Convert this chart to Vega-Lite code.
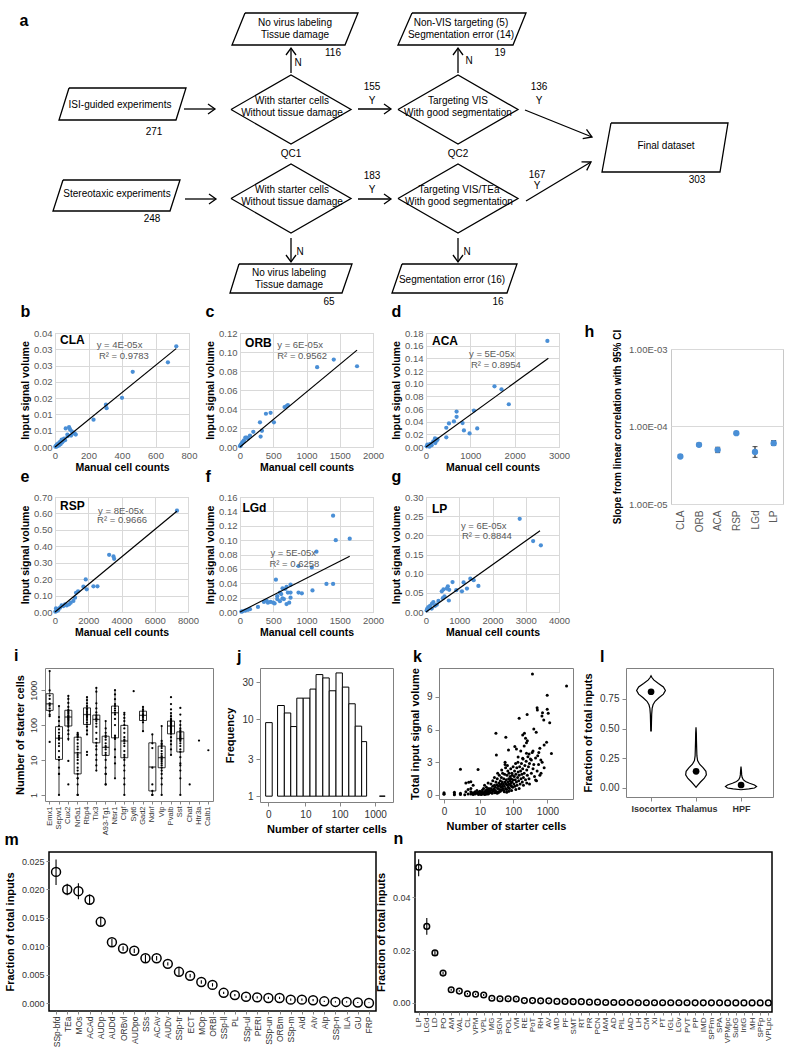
{
"$schema": "https://vega.github.io/schema/vega-lite/v6.json",
"background": "white",
"padding": 0,
"config": {
  "view": {"stroke": null},
  "font": "Liberation Sans",
  "text": {"font": "Liberation Sans"},
  "axis": {"labelFont": "Liberation Sans", "titleFont": "Liberation Sans", "titleFontWeight": "bold", "titleColor": "black", "labelOverlap": false, "labelFlush": false},
  "title": {"font": "Liberation Sans", "fontSize": 16, "fontWeight": "bold", "anchor": "start", "frame": "bounds", "color": "black"}
},
"datasets": {
  "fcl": [
    {"g":"P1","k":0,"x":245,"y":13},{"g":"P1","k":1,"x":358,"y":13},{"g":"P1","k":2,"x":345,"y":45},{"g":"P1","k":3,"x":232,"y":45},{"g":"P1","k":4,"x":245,"y":13},
    {"g":"P2","k":0,"x":412,"y":13},{"g":"P2","k":1,"x":526,"y":13},{"g":"P2","k":2,"x":513,"y":45},{"g":"P2","k":3,"x":398,"y":45},{"g":"P2","k":4,"x":412,"y":13},
    {"g":"P3","k":0,"x":69,"y":88},{"g":"P3","k":1,"x":186,"y":88},{"g":"P3","k":2,"x":176,"y":120},{"g":"P3","k":3,"x":59,"y":120},{"g":"P3","k":4,"x":69,"y":88},
    {"g":"P4","k":0,"x":611,"y":123},{"g":"P4","k":1,"x":728,"y":123},{"g":"P4","k":2,"x":720,"y":172},{"g":"P4","k":3,"x":602,"y":172},{"g":"P4","k":4,"x":611,"y":123},
    {"g":"P5","k":0,"x":63,"y":180},{"g":"P5","k":1,"x":180,"y":180},{"g":"P5","k":2,"x":170,"y":211},{"g":"P5","k":3,"x":53,"y":211},{"g":"P5","k":4,"x":63,"y":180},
    {"g":"P6","k":0,"x":239,"y":264},{"g":"P6","k":1,"x":352,"y":264},{"g":"P6","k":2,"x":342,"y":293},{"g":"P6","k":3,"x":230,"y":293},{"g":"P6","k":4,"x":239,"y":264},
    {"g":"P7","k":0,"x":402,"y":264},{"g":"P7","k":1,"x":517,"y":264},{"g":"P7","k":2,"x":507,"y":293},{"g":"P7","k":3,"x":392,"y":293},{"g":"P7","k":4,"x":402,"y":264},
    {"g":"D1","k":0,"x":231,"y":109.5},{"g":"D1","k":1,"x":291,"y":75},{"g":"D1","k":2,"x":351,"y":109.5},{"g":"D1","k":3,"x":291,"y":144},{"g":"D1","k":4,"x":231,"y":109.5},
    {"g":"D2","k":0,"x":398,"y":109.5},{"g":"D2","k":1,"x":458,"y":75},{"g":"D2","k":2,"x":518,"y":109.5},{"g":"D2","k":3,"x":458,"y":144},{"g":"D2","k":4,"x":398,"y":109.5},
    {"g":"D3","k":0,"x":231,"y":198.5},{"g":"D3","k":1,"x":291,"y":164},{"g":"D3","k":2,"x":351,"y":198.5},{"g":"D3","k":3,"x":291,"y":233},{"g":"D3","k":4,"x":231,"y":198.5},
    {"g":"D4","k":0,"x":398,"y":198.5},{"g":"D4","k":1,"x":458,"y":164},{"g":"D4","k":2,"x":518,"y":198.5},{"g":"D4","k":3,"x":458,"y":233},{"g":"D4","k":4,"x":398,"y":198.5},
    {"g":"A1","k":0,"x":184,"y":109},{"g":"A1","k":1,"x":215,"y":109},
    {"g":"H1","k":0,"x":208,"y":104},{"g":"H1","k":1,"x":215,"y":109},{"g":"H1","k":2,"x":208,"y":114},
    {"g":"A2","k":0,"x":358,"y":109},{"g":"A2","k":1,"x":391,"y":109},
    {"g":"H2","k":0,"x":384,"y":104},{"g":"H2","k":1,"x":391,"y":109},{"g":"H2","k":2,"x":384,"y":114},
    {"g":"A3","k":0,"x":291,"y":73},{"g":"A3","k":1,"x":291,"y":48},
    {"g":"H3","k":0,"x":286,"y":55},{"g":"H3","k":1,"x":291,"y":48},{"g":"H3","k":2,"x":296,"y":55},
    {"g":"A4","k":0,"x":458,"y":73},{"g":"A4","k":1,"x":458,"y":48},
    {"g":"H4","k":0,"x":453,"y":55},{"g":"H4","k":1,"x":458,"y":48},{"g":"H4","k":2,"x":463,"y":55},
    {"g":"A5","k":0,"x":525,"y":110},{"g":"A5","k":1,"x":592,"y":137},
    {"g":"H5","k":0,"x":582.7,"y":138.6},{"g":"H5","k":1,"x":592,"y":137},{"g":"H5","k":2,"x":586.5,"y":129.4},
    {"g":"A6","k":0,"x":185,"y":199},{"g":"A6","k":1,"x":216,"y":199},
    {"g":"H6","k":0,"x":209,"y":194},{"g":"H6","k":1,"x":216,"y":199},{"g":"H6","k":2,"x":209,"y":204},
    {"g":"A7","k":0,"x":358,"y":199},{"g":"A7","k":1,"x":391,"y":199},
    {"g":"H7","k":0,"x":384,"y":194},{"g":"H7","k":1,"x":391,"y":199},{"g":"H7","k":2,"x":384,"y":204},
    {"g":"A8","k":0,"x":526,"y":201},{"g":"A8","k":1,"x":591,"y":162},
    {"g":"H8","k":0,"x":586.7,"y":170.4},{"g":"H8","k":1,"x":591,"y":162},{"g":"H8","k":2,"x":581.5,"y":161.8},
    {"g":"A9","k":0,"x":291,"y":238},{"g":"A9","k":1,"x":291,"y":262},
    {"g":"H9","k":0,"x":286,"y":255},{"g":"H9","k":1,"x":291,"y":262},{"g":"H9","k":2,"x":296,"y":255},
    {"g":"A10","k":0,"x":458,"y":238},{"g":"A10","k":1,"x":458,"y":262},
    {"g":"H10","k":0,"x":453,"y":255},{"g":"H10","k":1,"x":458,"y":262},{"g":"H10","k":2,"x":463,"y":255}
  ],
  "fct": [
    {"t":"No virus labeling","x":295,"y":23},{"t":"Tissue damage","x":295,"y":35},{"t":"116","x":333,"y":53},
    {"t":"Non-VIS targeting (5)","x":461,"y":23},{"t":"Segmentation error (14)","x":461,"y":35},{"t":"19","x":500,"y":53},
    {"t":"N","x":298,"y":63},{"t":"N","x":469,"y":61},
    {"t":"ISI-guided experiments","x":120,"y":105},{"t":"271","x":154,"y":132},
    {"t":"With starter cells","x":292,"y":101},{"t":"Without tissue damage","x":292,"y":113},
    {"t":"155","x":372,"y":87},{"t":"Y","x":372,"y":101},
    {"t":"Targeting VIS","x":458,"y":101},{"t":"With good segmentation","x":458,"y":113},
    {"t":"136","x":539,"y":87},{"t":"Y","x":539,"y":101},
    {"t":"Final dataset","x":666,"y":146},{"t":"303","x":697,"y":180},
    {"t":"QC1","x":291,"y":154},{"t":"QC2","x":458,"y":154},
    {"t":"Stereotaxic experiments","x":117,"y":194},{"t":"248","x":152,"y":219},
    {"t":"With starter cells","x":292,"y":190},{"t":"Without tissue damage","x":292,"y":202},
    {"t":"183","x":372,"y":176},{"t":"Y","x":372,"y":190},
    {"t":"Targeting VIS/TEa","x":459,"y":190},{"t":"With good segmentation","x":459,"y":202},
    {"t":"167","x":537,"y":175},{"t":"Y","x":537,"y":186},
    {"t":"N","x":300,"y":252},{"t":"N","x":467,"y":252},
    {"t":"No virus labeling","x":289,"y":273},{"t":"Tissue damage","x":289,"y":285},{"t":"65","x":329,"y":302},
    {"t":"Segmentation error (16)","x":452,"y":280},{"t":"16","x":498,"y":302}
  ],
  "fca": [{"t":"a","x":24,"y":21}],
  "sc": [
    {"p":"b","x":724,"y":0.0309},{"p":"b","x":674,"y":0.026},{"p":"b","x":464,"y":0.0231},{"p":"b","x":400,"y":0.0151},{"p":"b","x":304,"y":0.013},{"p":"b","x":308,"y":0.0119},{"p":"b","x":230,"y":0.0084},
    {"p":"b","x":84,"y":0.0061},{"p":"b","x":64,"y":0.0057},{"p":"b","x":90,"y":0.0054},{"p":"b","x":100,"y":0.0048},{"p":"b","x":118,"y":0.0041},{"p":"b","x":124,"y":0.0038},{"p":"b","x":74,"y":0.0038},{"p":"b","x":54,"y":0.0026},{"p":"b","x":40,"y":0.0023},{"p":"b","x":48,"y":0.0018},{"p":"b","x":30,"y":0.0016},{"p":"b","x":20,"y":0.0011},{"p":"b","x":12,"y":0.0008},{"p":"b","x":6,"y":0.0004},{"p":"b","x":26,"y":0.0006},{"p":"b","x":42,"y":0.0014},{"p":"b","x":60,"y":0.0021},{"p":"b","x":76,"y":0.0033},{"p":"b","x":16,"y":0.0003},{"p":"b","x":8,"y":0.0001},{"p":"b","x":2,"y":0.0001},{"p":"b","x":34,"y":0.0009},{"p":"b","x":96,"y":0.0035},{"p":"b","x":110,"y":0.0043},
    {"p":"c","x":1160,"y":0.084},{"p":"c","x":1410,"y":0.092},{"p":"c","x":1760,"y":0.085},{"p":"c","x":720,"y":0.044},{"p":"c","x":700,"y":0.043},{"p":"c","x":670,"y":0.042},{"p":"c","x":460,"y":0.036},{"p":"c","x":390,"y":0.035},{"p":"c","x":510,"y":0.026},{"p":"c","x":300,"y":0.026},{"p":"c","x":330,"y":0.017},{"p":"c","x":310,"y":0.011},{"p":"c","x":200,"y":0.016},{"p":"c","x":150,"y":0.012},{"p":"c","x":100,"y":0.01},{"p":"c","x":80,"y":0.01},{"p":"c","x":60,"y":0.007},{"p":"c","x":40,"y":0.005},{"p":"c","x":30,"y":0.004},{"p":"c","x":20,"y":0.003},{"p":"c","x":10,"y":0.002},{"p":"c","x":5,"y":0.001},{"p":"c","x":50,"y":0.006},{"p":"c","x":120,"y":0.009},{"p":"c","x":15,"y":0.002},{"p":"c","x":0,"y":0.001},
    {"p":"d","x":2738,"y":0.1675},{"p":"d","x":1545,"y":0.0958},{"p":"d","x":1703,"y":0.0911},{"p":"d","x":1868,"y":0.0675},{"p":"d","x":1080,"y":0.0576},{"p":"d","x":690,"y":0.056},{"p":"d","x":690,"y":0.0476},{"p":"d","x":630,"y":0.0403},{"p":"d","x":518,"y":0.0372},{"p":"d","x":825,"y":0.0377},{"p":"d","x":458,"y":0.0304},{"p":"d","x":855,"y":0.0262},{"p":"d","x":1155,"y":0.0293},{"p":"d","x":983,"y":0.0215},{"p":"d","x":458,"y":0.0152},{"p":"d","x":203,"y":0.0136},{"p":"d","x":240,"y":0.0099},{"p":"d","x":210,"y":0.0063},{"p":"d","x":90,"y":0.0047},{"p":"d","x":128,"y":0.0026},{"p":"d","x":15,"y":0.001},{"p":"d","x":53,"y":0.002},{"p":"d","x":165,"y":0.0089},{"p":"d","x":30,"y":0.0037},{"p":"d","x":75,"y":0.0005},{"p":"d","x":260,"y":0.012},{"p":"d","x":110,"y":0.005},
    {"p":"e","x":7337,"y":0.617},{"p":"e","x":3256,"y":0.348},{"p":"e","x":3518,"y":0.338},{"p":"e","x":3558,"y":0.324},{"p":"e","x":1849,"y":0.198},{"p":"e","x":1910,"y":0.138},{"p":"e","x":1709,"y":0.154},{"p":"e","x":2312,"y":0.156},{"p":"e","x":2553,"y":0.156},{"p":"e","x":1387,"y":0.126},{"p":"e","x":1266,"y":0.117},{"p":"e","x":1206,"y":0.087},{"p":"e","x":1106,"y":0.067},{"p":"e","x":945,"y":0.057},{"p":"e","x":844,"y":0.047},{"p":"e","x":704,"y":0.04},{"p":"e","x":402,"y":0.04},{"p":"e","x":302,"y":0.026},{"p":"e","x":201,"y":0.012},{"p":"e","x":60,"y":0.022},{"p":"e","x":100,"y":0.006},{"p":"e","x":20,"y":0.002},{"p":"e","x":141,"y":0.016},{"p":"e","x":503,"y":0.036},{"p":"e","x":603,"y":0.047},
    {"p":"f","x":1650,"y":0.102},{"p":"f","x":1400,"y":0.134},{"p":"f","x":1440,"y":0.1},{"p":"f","x":1150,"y":0.084},{"p":"f","x":1080,"y":0.062},{"p":"f","x":880,"y":0.064},{"p":"f","x":1300,"y":0.039},{"p":"f","x":1400,"y":0.039},{"p":"f","x":1090,"y":0.03},{"p":"f","x":540,"y":0.045},{"p":"f","x":760,"y":0.038},{"p":"f","x":700,"y":0.035},{"p":"f","x":640,"y":0.033},{"p":"f","x":680,"y":0.032},{"p":"f","x":600,"y":0.027},{"p":"f","x":720,"y":0.027},{"p":"f","x":760,"y":0.027},{"p":"f","x":880,"y":0.027},{"p":"f","x":930,"y":0.026},{"p":"f","x":560,"y":0.022},{"p":"f","x":620,"y":0.025},{"p":"f","x":660,"y":0.018},{"p":"f","x":560,"y":0.018},{"p":"f","x":760,"y":0.02},{"p":"f","x":700,"y":0.011},{"p":"f","x":740,"y":0.013},{"p":"f","x":400,"y":0.016},{"p":"f","x":420,"y":0.013},{"p":"f","x":460,"y":0.014},{"p":"f","x":500,"y":0.013},{"p":"f","x":520,"y":0.012},{"p":"f","x":270,"y":0.007},{"p":"f","x":150,"y":0.004},{"p":"f","x":120,"y":0.003},{"p":"f","x":80,"y":0.002},{"p":"f","x":40,"y":0.001},{"p":"f","x":20,"y":0.0005},{"p":"f","x":360,"y":0.014},{"p":"f","x":640,"y":0.019},{"p":"f","x":600,"y":0.015},
    {"p":"g","x":2818,"y":0.243},{"p":"g","x":3222,"y":0.185},{"p":"g","x":3455,"y":0.174},{"p":"g","x":798,"y":0.078},{"p":"g","x":1131,"y":0.077},{"p":"g","x":1333,"y":0.087},{"p":"g","x":1434,"y":0.083},{"p":"g","x":1232,"y":0.061},{"p":"g","x":1576,"y":0.068},{"p":"g","x":1081,"y":0.054},{"p":"g","x":909,"y":0.057},{"p":"g","x":657,"y":0.067},{"p":"g","x":626,"y":0.061},{"p":"g","x":697,"y":0.058},{"p":"g","x":525,"y":0.059},{"p":"g","x":475,"y":0.054},{"p":"g","x":556,"y":0.041},{"p":"g","x":505,"y":0.036},{"p":"g","x":687,"y":0.03},{"p":"g","x":374,"y":0.029},{"p":"g","x":222,"y":0.026},{"p":"g","x":182,"y":0.022},{"p":"g","x":121,"y":0.016},{"p":"g","x":71,"y":0.013},{"p":"g","x":40,"y":0.009},{"p":"g","x":20,"y":0.004},{"p":"g","x":101,"y":0.01},{"p":"g","x":172,"y":0.009},{"p":"g","x":273,"y":0.016},{"p":"g","x":323,"y":0.019}
  ],
  "fits": [
    {"p":"b","x":0,"y":0,"x2":723,"y2":0.0302},
    {"p":"c","x":0,"y":0,"x2":1760,"y2":0.102},
    {"p":"d","x":0,"y":0,"x2":2760,"y2":0.14},
    {"p":"e","x":0,"y":0,"x2":7330,"y2":0.613},
    {"p":"f","x":0,"y":0,"x2":1650,"y2":0.0775},
    {"p":"g","x":0,"y":0,"x2":3430,"y2":0.212}
  ],
  "notes": [
    {"p":"b","k":"n","t":"CLA","x":30,"y":0.0328},{"p":"b","k":"e","t":"y = 4E-05x","x":249,"y":0.0313},{"p":"b","k":"e","t":"R² = 0.9783","x":262,"y":0.0279},
    {"p":"c","k":"n","t":"ORB","x":76,"y":0.1095},{"p":"c","k":"e","t":"y = 6E-05x","x":560,"y":0.107},{"p":"c","k":"e","t":"R² = 0.9562","x":560,"y":0.096},
    {"p":"d","k":"n","t":"ACA","x":135,"y":0.167},{"p":"d","k":"e","t":"y = 5E-05x","x":970,"y":0.147},{"p":"d","k":"e","t":"R² = 0.8954","x":1015,"y":0.129},
    {"p":"e","k":"n","t":"RSP","x":300,"y":0.645},{"p":"e","k":"e","t":"y = 8E-05x","x":2590,"y":0.615},{"p":"e","k":"e","t":"R² = 0.9666","x":2530,"y":0.56},
    {"p":"f","k":"n","t":"LGd","x":37,"y":0.1447},{"p":"f","k":"e","t":"y = 5E-05x","x":457,"y":0.082},{"p":"f","k":"e","t":"R² = 0.6258","x":442,"y":0.067},
    {"p":"g","k":"n","t":"LP","x":180,"y":0.269},{"p":"g","k":"e","t":"y = 6E-05x","x":1050,"y":0.224},{"p":"g","k":"e","t":"R² = 0.8844","x":1080,"y":0.198}
  ],
  "hd": [
    {"r":"CLA","v":4.1e-5,"lo":4.0e-5,"hi":4.3e-5},
    {"r":"ORB","v":5.8e-5,"lo":5.6e-5,"hi":6.1e-5},
    {"r":"ACA","v":5.0e-5,"lo":4.6e-5,"hi":5.4e-5},
    {"r":"RSP","v":8.2e-5,"lo":8.0e-5,"hi":8.5e-5},
    {"r":"LGd","v":4.7e-5,"lo":4.0e-5,"hi":5.5e-5},
    {"r":"LP","v":6.1e-5,"lo":5.7e-5,"hi":6.6e-5}
  ],
  "ibox": [
    {"g":"Emx1","lo":180,"q1":263,"med":405,"q3":790,"hi":3500},
    {"g":"Sepw1","lo":1,"q1":10.4,"med":42,"q3":90,"hi":350},
    {"g":"Cux2","lo":35,"q1":94,"med":170,"q3":265,"hi":680},
    {"g":"Nr5a1","lo":1,"q1":4,"med":16,"q3":45,"hi":60},
    {"g":"Rbp4","lo":54,"q1":104,"med":200,"q3":310,"hi":630},
    {"g":"Tlx3","lo":5,"q1":31,"med":145,"q3":193,"hi":1160},
    {"g":"A93-Tg1","lo":2,"q1":13.5,"med":23,"q3":48,"hi":130},
    {"g":"Ntsr1","lo":3,"q1":43,"med":225,"q3":350,"hi":1000},
    {"g":"Ctgf","lo":1,"q1":11.6,"med":35,"q3":98,"hi":225},
    {"g":"Gad2","lo":67,"q1":135,"med":190,"q3":250,"hi":330},
    {"g":"Ndnf","lo":1,"q1":1.3,"med":6.3,"q3":31,"hi":54},
    {"g":"Vip","lo":1,"q1":6,"med":11.7,"q3":25,"hi":94},
    {"g":"Pvalb","lo":14,"q1":56,"med":94,"q3":130,"hi":220},
    {"g":"Sst","lo":1,"q1":17,"med":41,"q3":64,"hi":130}
  ],
  "ipts": [
    {"g":"Emx1","v":3500},{"g":"Emx1","v":980},{"g":"Emx1","v":700},{"g":"Emx1","v":560},{"g":"Emx1","v":420},{"g":"Emx1","v":400},{"g":"Emx1","v":360},{"g":"Emx1","v":300},{"g":"Emx1","v":250},{"g":"Emx1","v":200},{"g":"Emx1","v":180},{"g":"Emx1","v":33},
    {"g":"Sepw1","v":350},{"g":"Sepw1","v":170},{"g":"Sepw1","v":130},{"g":"Sepw1","v":95},{"g":"Sepw1","v":75},{"g":"Sepw1","v":60},{"g":"Sepw1","v":50},{"g":"Sepw1","v":45},{"g":"Sepw1","v":42},{"g":"Sepw1","v":38},{"g":"Sepw1","v":30},{"g":"Sepw1","v":25},{"g":"Sepw1","v":18},{"g":"Sepw1","v":12},{"g":"Sepw1","v":10},{"g":"Sepw1","v":6},{"g":"Sepw1","v":4},{"g":"Sepw1","v":4},{"g":"Sepw1","v":1},
    {"g":"Cux2","v":680},{"g":"Cux2","v":560},{"g":"Cux2","v":430},{"g":"Cux2","v":330},{"g":"Cux2","v":270},{"g":"Cux2","v":250},{"g":"Cux2","v":230},{"g":"Cux2","v":210},{"g":"Cux2","v":190},{"g":"Cux2","v":180},{"g":"Cux2","v":170},{"g":"Cux2","v":160},{"g":"Cux2","v":150},{"g":"Cux2","v":140},{"g":"Cux2","v":130},{"g":"Cux2","v":120},{"g":"Cux2","v":110},{"g":"Cux2","v":100},{"g":"Cux2","v":90},{"g":"Cux2","v":70},{"g":"Cux2","v":55},{"g":"Cux2","v":40},{"g":"Cux2","v":9.4},{"g":"Cux2","v":2},
    {"g":"Nr5a1","v":60},{"g":"Nr5a1","v":55},{"g":"Nr5a1","v":52},{"g":"Nr5a1","v":48},{"g":"Nr5a1","v":45},{"g":"Nr5a1","v":38},{"g":"Nr5a1","v":30},{"g":"Nr5a1","v":24},{"g":"Nr5a1","v":20},{"g":"Nr5a1","v":16},{"g":"Nr5a1","v":14},{"g":"Nr5a1","v":12},{"g":"Nr5a1","v":10},{"g":"Nr5a1","v":8},{"g":"Nr5a1","v":6},{"g":"Nr5a1","v":5},{"g":"Nr5a1","v":4},{"g":"Nr5a1","v":3},{"g":"Nr5a1","v":3},{"g":"Nr5a1","v":2},{"g":"Nr5a1","v":1},{"g":"Nr5a1","v":1},
    {"g":"Rbp4","v":630},{"g":"Rbp4","v":520},{"g":"Rbp4","v":420},{"g":"Rbp4","v":350},{"g":"Rbp4","v":300},{"g":"Rbp4","v":270},{"g":"Rbp4","v":240},{"g":"Rbp4","v":220},{"g":"Rbp4","v":200},{"g":"Rbp4","v":190},{"g":"Rbp4","v":175},{"g":"Rbp4","v":160},{"g":"Rbp4","v":140},{"g":"Rbp4","v":120},{"g":"Rbp4","v":105},{"g":"Rbp4","v":90},{"g":"Rbp4","v":70},{"g":"Rbp4","v":54},{"g":"Rbp4","v":17},{"g":"Rbp4","v":14},
    {"g":"Tlx3","v":1160},{"g":"Tlx3","v":900},{"g":"Tlx3","v":420},{"g":"Tlx3","v":300},{"g":"Tlx3","v":230},{"g":"Tlx3","v":190},{"g":"Tlx3","v":170},{"g":"Tlx3","v":150},{"g":"Tlx3","v":145},{"g":"Tlx3","v":130},{"g":"Tlx3","v":110},{"g":"Tlx3","v":90},{"g":"Tlx3","v":60},{"g":"Tlx3","v":40},{"g":"Tlx3","v":31},{"g":"Tlx3","v":25},{"g":"Tlx3","v":20},{"g":"Tlx3","v":14},{"g":"Tlx3","v":10},{"g":"Tlx3","v":7},{"g":"Tlx3","v":5},
    {"g":"A93-Tg1","v":130},{"g":"A93-Tg1","v":80},{"g":"A93-Tg1","v":60},{"g":"A93-Tg1","v":50},{"g":"A93-Tg1","v":45},{"g":"A93-Tg1","v":38},{"g":"A93-Tg1","v":30},{"g":"A93-Tg1","v":25},{"g":"A93-Tg1","v":23},{"g":"A93-Tg1","v":20},{"g":"A93-Tg1","v":16},{"g":"A93-Tg1","v":14},{"g":"A93-Tg1","v":10},{"g":"A93-Tg1","v":6},{"g":"A93-Tg1","v":4},{"g":"A93-Tg1","v":4},{"g":"A93-Tg1","v":2},{"g":"A93-Tg1","v":2},
    {"g":"Ntsr1","v":1000},{"g":"Ntsr1","v":750},{"g":"Ntsr1","v":550},{"g":"Ntsr1","v":400},{"g":"Ntsr1","v":350},{"g":"Ntsr1","v":300},{"g":"Ntsr1","v":260},{"g":"Ntsr1","v":225},{"g":"Ntsr1","v":200},{"g":"Ntsr1","v":150},{"g":"Ntsr1","v":100},{"g":"Ntsr1","v":50},{"g":"Ntsr1","v":45},{"g":"Ntsr1","v":43},{"g":"Ntsr1","v":40},{"g":"Ntsr1","v":20},{"g":"Ntsr1","v":12},{"g":"Ntsr1","v":8},{"g":"Ntsr1","v":3},
    {"g":"Ctgf","v":225},{"g":"Ctgf","v":200},{"g":"Ctgf","v":160},{"g":"Ctgf","v":130},{"g":"Ctgf","v":100},{"g":"Ctgf","v":80},{"g":"Ctgf","v":60},{"g":"Ctgf","v":45},{"g":"Ctgf","v":38},{"g":"Ctgf","v":35},{"g":"Ctgf","v":30},{"g":"Ctgf","v":25},{"g":"Ctgf","v":18},{"g":"Ctgf","v":14},{"g":"Ctgf","v":12},{"g":"Ctgf","v":10},{"g":"Ctgf","v":7},{"g":"Ctgf","v":5},{"g":"Ctgf","v":3},{"g":"Ctgf","v":2},{"g":"Ctgf","v":1},
    {"g":"Syt6","v":930},
    {"g":"Gad2","v":330},{"g":"Gad2","v":280},{"g":"Gad2","v":250},{"g":"Gad2","v":220},{"g":"Gad2","v":200},{"g":"Gad2","v":190},{"g":"Gad2","v":180},{"g":"Gad2","v":160},{"g":"Gad2","v":140},{"g":"Gad2","v":120},{"g":"Gad2","v":67},
    {"g":"Ndnf","v":54},{"g":"Ndnf","v":30},{"g":"Ndnf","v":22},{"g":"Ndnf","v":6},{"g":"Ndnf","v":2},{"g":"Ndnf","v":1.3},{"g":"Ndnf","v":1},{"g":"Ndnf","v":1},
    {"g":"Vip","v":94},{"g":"Vip","v":35},{"g":"Vip","v":30},{"g":"Vip","v":28},{"g":"Vip","v":25},{"g":"Vip","v":22},{"g":"Vip","v":18},{"g":"Vip","v":15},{"g":"Vip","v":13},{"g":"Vip","v":12},{"g":"Vip","v":11},{"g":"Vip","v":10},{"g":"Vip","v":9},{"g":"Vip","v":8},{"g":"Vip","v":7},{"g":"Vip","v":6},{"g":"Vip","v":5},{"g":"Vip","v":4},{"g":"Vip","v":3},{"g":"Vip","v":2},{"g":"Vip","v":1},
    {"g":"Pvalb","v":630},{"g":"Pvalb","v":400},{"g":"Pvalb","v":280},{"g":"Pvalb","v":220},{"g":"Pvalb","v":180},{"g":"Pvalb","v":150},{"g":"Pvalb","v":140},{"g":"Pvalb","v":130},{"g":"Pvalb","v":125},{"g":"Pvalb","v":120},{"g":"Pvalb","v":115},{"g":"Pvalb","v":110},{"g":"Pvalb","v":105},{"g":"Pvalb","v":100},{"g":"Pvalb","v":95},{"g":"Pvalb","v":90},{"g":"Pvalb","v":85},{"g":"Pvalb","v":80},{"g":"Pvalb","v":75},{"g":"Pvalb","v":70},{"g":"Pvalb","v":65},{"g":"Pvalb","v":60},{"g":"Pvalb","v":56},{"g":"Pvalb","v":45},{"g":"Pvalb","v":35},{"g":"Pvalb","v":28},{"g":"Pvalb","v":20},{"g":"Pvalb","v":14},
    {"g":"Sst","v":310},{"g":"Sst","v":200},{"g":"Sst","v":130},{"g":"Sst","v":100},{"g":"Sst","v":80},{"g":"Sst","v":70},{"g":"Sst","v":64},{"g":"Sst","v":60},{"g":"Sst","v":55},{"g":"Sst","v":50},{"g":"Sst","v":47},{"g":"Sst","v":44},{"g":"Sst","v":41},{"g":"Sst","v":40},{"g":"Sst","v":38},{"g":"Sst","v":35},{"g":"Sst","v":30},{"g":"Sst","v":25},{"g":"Sst","v":20},{"g":"Sst","v":17},{"g":"Sst","v":12},{"g":"Sst","v":8},{"g":"Sst","v":7},{"g":"Sst","v":5},{"g":"Sst","v":3},{"g":"Sst","v":1},
    {"g":"Chat","v":2},{"g":"Htr3a","v":36},{"g":"Calb1","v":19}
  ],
  "jd": [
    {"a":-0.187,"b":0.288,"c":9},{"a":0.82,"b":1.82,"c":15},{"a":1.82,"b":3.27,"c":12},{"a":3.27,"b":5.31,"c":8},{"a":5.31,"b":8.55,"c":18.7},{"a":8.55,"b":13.8,"c":18.7},{"a":13.8,"b":20.9,"c":24.5},{"a":20.9,"b":32.9,"c":37.8},{"a":32.9,"b":50.3,"c":34.2},{"a":50.3,"b":78.4,"c":23.3},{"a":78.4,"b":119,"c":39.7},{"a":119,"b":181,"c":26},{"a":181,"b":274,"c":15.8},{"a":274,"b":416,"c":8.1},{"a":416,"b":574,"c":5.1},{"a":1317,"b":1905,"c":1}
  ],
  "kd": [
    {"n":366,"v":11.1},{"n":3570,"v":10.0},{"n":980,"v":9.15},{"n":980,"v":7.87},{"n":500,"v":8.0},{"n":508,"v":7.8},{"n":256,"v":7.4},{"n":150,"v":7.04},{"n":717,"v":7.56},{"n":1050,"v":7.5},{"n":1160,"v":6.64},{"n":690,"v":7.25},{"n":780,"v":6.89},{"n":400,"v":6.06},{"n":214,"v":5.66},{"n":31,"v":5.66},{"n":61,"v":5.3},{"n":230,"v":5.2},{"n":260,"v":4.99},{"n":190,"v":5.5},{"n":245,"v":4.8},{"n":940,"v":4.84},{"n":470,"v":5.75},{"n":73,"v":4.13},{"n":112,"v":4.44},{"n":125,"v":4.22},{"n":167,"v":4.04},{"n":210,"v":4.5},{"n":245,"v":3.83},{"n":293,"v":3.77},{"n":380,"v":4.04},{"n":560,"v":3.89},{"n":640,"v":3.21},{"n":340,"v":3.21},{"n":190,"v":3.37},{"n":140,"v":3.49},{"n":58,"v":3.0},{"n":32,"v":3.67},{"n":2,"v":2.36},{"n":8.7,"v":2.33},{"n":4.2,"v":1.16},{"n":5,"v":1.22},{"n":3.3,"v":1.1},{"n":3.3,"v":0.3},{"n":1,"v":0.24},{"n":1,"v":0.03},{"n":0,"v":0.21},{"n":0,"v":0.06},{"n":0,"v":0.12},{"n":1,"v":0.1},{"n":2,"v":0.05},{"n":2,"v":0.15},{"n":3,"v":0.02},{"n":4,"v":0.08},{"n":450,"v":1.38},{"n":600,"v":1.8},{"n":800,"v":2.5},{"n":1300,"v":3.8},
    {"n":5,"v":0.1},{"n":6,"v":0.2},{"n":6,"v":0.05},{"n":7,"v":0.3},{"n":7,"v":0.1},{"n":8,"v":0.15},{"n":8,"v":0.4},{"n":9,"v":0.05},{"n":9,"v":0.25},{"n":10,"v":0.1},{"n":10,"v":0.35},{"n":5,"v":0.6},{"n":6,"v":0.9},{"n":4,"v":0.5},{"n":5,"v":0.3},
    {"n":11,"v":0.2},{"n":11,"v":0.05},{"n":12,"v":0.3},{"n":12,"v":0.45},{"n":13,"v":0.15},{"n":13,"v":0.6},{"n":14,"v":0.25},{"n":14,"v":0.9},{"n":15,"v":0.1},{"n":15,"v":0.4},{"n":16,"v":0.3},{"n":16,"v":0.7},{"n":17,"v":0.2},{"n":17,"v":0.5},{"n":18,"v":0.35},{"n":18,"v":1.1},{"n":19,"v":0.15},{"n":19,"v":0.6},{"n":20,"v":0.4},{"n":20,"v":0.25},{"n":12,"v":0.1},{"n":14,"v":0.05},{"n":16,"v":0.1},{"n":18,"v":0.08},
    {"n":21,"v":0.3},{"n":22,"v":0.6},{"n":22,"v":1.0},{"n":23,"v":0.2},{"n":24,"v":0.45},{"n":25,"v":0.8},{"n":25,"v":1.3},{"n":26,"v":0.35},{"n":27,"v":0.55},{"n":28,"v":0.9},{"n":28,"v":1.6},{"n":30,"v":0.4},{"n":30,"v":0.7},{"n":31,"v":1.2},{"n":32,"v":0.25},{"n":33,"v":0.95},{"n":34,"v":1.5},{"n":35,"v":0.6},{"n":35,"v":2.0},{"n":36,"v":0.3},{"n":37,"v":0.8},{"n":38,"v":1.1},{"n":39,"v":1.8},{"n":40,"v":0.5},{"n":40,"v":0.9},{"n":42,"v":1.3},{"n":42,"v":0.35},{"n":44,"v":0.7},{"n":45,"v":1.0},{"n":45,"v":1.6},{"n":46,"v":2.3},{"n":47,"v":0.45},{"n":48,"v":0.8},{"n":48,"v":1.2},{"n":49,"v":2.0},{"n":50,"v":0.6},{"n":24,"v":0.15},{"n":29,"v":0.2},{"n":34,"v":0.15},{"n":38,"v":0.25},
    {"n":52,"v":1.0},{"n":53,"v":1.5},{"n":54,"v":0.4},{"n":55,"v":0.8},{"n":56,"v":1.9},{"n":58,"v":1.2},{"n":60,"v":0.6},{"n":60,"v":2.5},{"n":62,"v":1.0},{"n":63,"v":1.4},{"n":65,"v":0.5},{"n":66,"v":1.8},{"n":68,"v":0.9},{"n":70,"v":1.2},{"n":70,"v":2.2},{"n":72,"v":0.7},{"n":74,"v":1.5},{"n":75,"v":1.0},{"n":76,"v":2.0},{"n":78,"v":0.6},{"n":80,"v":1.3},{"n":82,"v":1.7},{"n":84,"v":0.9},{"n":85,"v":2.4},{"n":86,"v":1.1},{"n":88,"v":1.5},{"n":90,"v":0.8},{"n":92,"v":2.0},{"n":94,"v":1.2},{"n":95,"v":1.8},{"n":97,"v":0.7},{"n":98,"v":1.4},{"n":100,"v":2.6},{"n":55,"v":0.3},{"n":65,"v":0.25},{"n":75,"v":0.35},{"n":90,"v":0.4},{"n":58,"v":2.8},{"n":68,"v":2.7},
    {"n":105,"v":1.0},{"n":108,"v":1.7},{"n":110,"v":2.2},{"n":112,"v":0.8},{"n":115,"v":1.4},{"n":118,"v":2.9},{"n":120,"v":1.9},{"n":125,"v":1.2},{"n":128,"v":2.5},{"n":130,"v":0.9},{"n":135,"v":1.6},{"n":138,"v":3.0},{"n":140,"v":2.1},{"n":145,"v":1.3},{"n":150,"v":1.8},{"n":155,"v":2.6},{"n":160,"v":1.0},{"n":165,"v":2.2},{"n":170,"v":1.5},{"n":175,"v":2.9},{"n":180,"v":1.9},{"n":185,"v":1.2},{"n":190,"v":2.4},{"n":195,"v":3.3},{"n":200,"v":1.6},{"n":210,"v":2.0},{"n":220,"v":2.7},{"n":230,"v":1.4},{"n":240,"v":3.1},{"n":250,"v":2.3},{"n":260,"v":1.8},{"n":270,"v":3.5},{"n":280,"v":2.6},{"n":290,"v":1.5},{"n":300,"v":2.9},{"n":320,"v":3.3},{"n":340,"v":2.0},{"n":360,"v":3.9},{"n":380,"v":2.4},{"n":400,"v":2.8},{"n":420,"v":1.7},{"n":450,"v":3.4},{"n":480,"v":1.3},{"n":500,"v":2.2},{"n":520,"v":3.6},{"n":550,"v":2.8},{"n":600,"v":4.3},{"n":650,"v":2.0},{"n":700,"v":3.0},{"n":800,"v":4.6},{"n":150,"v":0.6},{"n":200,"v":0.9},{"n":250,"v":1.1},{"n":120,"v":0.5},{"n":300,"v":1.0}
  ],
  "vio": [
    {"r":"Isocortex","v":0.48,"d":0.012},{"r":"Isocortex","v":0.55,"d":0.02},{"r":"Isocortex","v":0.62,"d":0.03},{"r":"Isocortex","v":0.67,"d":0.05},{"r":"Isocortex","v":0.7,"d":0.09},{"r":"Isocortex","v":0.73,"d":0.18},{"r":"Isocortex","v":0.76,"d":0.35},{"r":"Isocortex","v":0.79,"d":0.55},{"r":"Isocortex","v":0.82,"d":0.64},{"r":"Isocortex","v":0.85,"d":0.55},{"r":"Isocortex","v":0.88,"d":0.33},{"r":"Isocortex","v":0.91,"d":0.12},{"r":"Isocortex","v":0.93,"d":0.04},{"r":"Isocortex","v":0.945,"d":0.0},
    {"r":"Thalamus","v":0.005,"d":0.0},{"r":"Thalamus","v":0.02,"d":0.06},{"r":"Thalamus","v":0.05,"d":0.2},{"r":"Thalamus","v":0.08,"d":0.36},{"r":"Thalamus","v":0.11,"d":0.46},{"r":"Thalamus","v":0.14,"d":0.44},{"r":"Thalamus","v":0.17,"d":0.32},{"r":"Thalamus","v":0.2,"d":0.16},{"r":"Thalamus","v":0.23,"d":0.07},{"r":"Thalamus","v":0.27,"d":0.04},{"r":"Thalamus","v":0.33,"d":0.03},{"r":"Thalamus","v":0.4,"d":0.02},{"r":"Thalamus","v":0.46,"d":0.015},{"r":"Thalamus","v":0.51,"d":0.0},
    {"r":"HPF","v":-0.015,"d":0.0},{"r":"HPF","v":-0.008,"d":0.35},{"r":"HPF","v":0.0,"d":0.6},{"r":"HPF","v":0.012,"d":0.69},{"r":"HPF","v":0.025,"d":0.6},{"r":"HPF","v":0.04,"d":0.38},{"r":"HPF","v":0.055,"d":0.2},{"r":"HPF","v":0.07,"d":0.1},{"r":"HPF","v":0.09,"d":0.05},{"r":"HPF","v":0.11,"d":0.03},{"r":"HPF","v":0.14,"d":0.02},{"r":"HPF","v":0.18,"d":0.0}
  ],
  "lmean": [{"r":"Isocortex","m":0.81},{"r":"Thalamus","m":0.14},{"r":"HPF","m":0.025}],
  "md": [
    {"r":"SSp-bfd","v":0.0231,"lo":0.0208,"hi":0.0253},{"r":"TEa","v":0.02,"lo":0.019,"hi":0.021},{"r":"MOs","v":0.0197,"lo":0.0183,"hi":0.0211},{"r":"ACAd","v":0.0182,"lo":0.0173,"hi":0.0191},{"r":"AUDp","v":0.0143,"lo":0.0136,"hi":0.015},{"r":"AUDd","v":0.0107,"lo":0.01,"hi":0.0113},{"r":"ORBvl","v":0.0096,"lo":0.0092,"hi":0.01},{"r":"AUDpo","v":0.0092,"lo":0.0088,"hi":0.0096},{"r":"SSs","v":0.0079,"lo":0.0072,"hi":0.0085},{"r":"ACAv","v":0.0079,"lo":0.0075,"hi":0.0083},{"r":"AUDv","v":0.0069,"lo":0.0066,"hi":0.0072},{"r":"SSp-tr","v":0.0055,"lo":0.0048,"hi":0.0062},{"r":"ECT","v":0.0048,"lo":0.0045,"hi":0.0051},{"r":"MOp","v":0.0037,"lo":0.0034,"hi":0.004},{"r":"ORBl","v":0.0032,"lo":0.0029,"hi":0.0035},{"r":"SSp-ll","v":0.0018,"lo":0.0016,"hi":0.002},{"r":"PL","v":0.0014,"lo":0.0012,"hi":0.0016},{"r":"SSp-ul","v":0.0011,"lo":0.0009,"hi":0.0013},{"r":"PERI","v":0.001,"lo":0.0008,"hi":0.0012},{"r":"SSp-un","v":0.0009,"lo":0.0007,"hi":0.0011},{"r":"ORBm","v":0.0009,"lo":0.0007,"hi":0.0011},{"r":"SSp-m","v":0.0006,"lo":0.0004,"hi":0.0008},{"r":"AId","v":0.0006,"lo":0.0004,"hi":0.0008},{"r":"AIv","v":0.0005,"lo":0.0003,"hi":0.0007},{"r":"AIp","v":0.0003,"lo":0.0002,"hi":0.0004},{"r":"SSp-n","v":0.0002,"lo":0.0001,"hi":0.0003},{"r":"ILA","v":0.0002,"lo":0.0001,"hi":0.0003},{"r":"GU","v":0.0001,"lo":0.0,"hi":0.0002},{"r":"FRP","v":0.0,"lo":0.0,"hi":0.0001}
  ],
  "nd": [
    {"r":"LP","v":0.0512,"lo":0.0478,"hi":0.0543},{"r":"LGd","v":0.0289,"lo":0.0258,"hi":0.0321},{"r":"LD","v":0.0189,"lo":0.018,"hi":0.0198},{"r":"PO","v":0.0113,"lo":0.0107,"hi":0.0119},{"r":"AM","v":0.005,"lo":0.0046,"hi":0.0054},{"r":"VAL","v":0.0045,"lo":0.0042,"hi":0.0048},{"r":"CL","v":0.0035,"lo":0.0032,"hi":0.0038},{"r":"VPM","v":0.0033,"lo":0.003,"hi":0.0036},{"r":"VPL","v":0.003,"lo":0.0026,"hi":0.0034},{"r":"MG","v":0.0018,"lo":0.0016,"hi":0.002},{"r":"SGN","v":0.0016,"lo":0.0014,"hi":0.0018},{"r":"POL","v":0.0016,"lo":0.0014,"hi":0.0018},{"r":"VM","v":0.0015,"lo":0.0013,"hi":0.0017},{"r":"RE","v":0.0009,"lo":0.0008,"hi":0.001},{"r":"PoT","v":0.0009,"lo":0.0008,"hi":0.001},{"r":"RH","v":0.0008,"lo":0.0007,"hi":0.0009},{"r":"AV","v":0.0008,"lo":0.0007,"hi":0.0009},{"r":"MD","v":0.0006,"lo":0.0005,"hi":0.0007},{"r":"PF","v":0.0006,"lo":0.0005,"hi":0.0007},{"r":"SMT","v":0.0005,"lo":0.0004,"hi":0.0006},{"r":"RT","v":0.0005,"lo":0.0004,"hi":0.0006},{"r":"PR","v":0.0003,"lo":0.0002,"hi":0.0004},{"r":"PCN","v":0.0003,"lo":0.0002,"hi":0.0004},{"r":"IAM","v":0.0002,"lo":0.0001,"hi":0.0003},{"r":"AD","v":0.0002,"lo":0.0001,"hi":0.0003},{"r":"PIL","v":0.0002,"lo":0.0001,"hi":0.0003},{"r":"IAD","v":0.0002,"lo":0.0001,"hi":0.0003},{"r":"LH","v":0.0001,"lo":0.0,"hi":0.0002},{"r":"CM","v":0.0001,"lo":0.0,"hi":0.0002},{"r":"Xi","v":0.0001,"lo":0.0,"hi":0.0002},{"r":"PT","v":0.0001,"lo":0.0,"hi":0.0002},{"r":"IGL","v":0.0001,"lo":0.0,"hi":0.0002},{"r":"LGv","v":0.0001,"lo":0.0,"hi":0.0002},{"r":"PVT","v":0.0001,"lo":0.0,"hi":0.0002},{"r":"PP","v":0.00005,"lo":0.0,"hi":0.0001},{"r":"IMD","v":0.00005,"lo":0.0,"hi":0.0001},{"r":"SPFm","v":0.00005,"lo":0.0,"hi":0.0001},{"r":"SPA","v":0.00005,"lo":0.0,"hi":0.0001},{"r":"VPMpc","v":0.00003,"lo":0.0,"hi":0.0001},{"r":"SubG","v":0.00003,"lo":0.0,"hi":0.0001},{"r":"IntG","v":0.00003,"lo":0.0,"hi":0.0001},{"r":"MH","v":0.00002,"lo":0.0,"hi":0.0001},{"r":"SPFp","v":0.00002,"lo":0.0,"hi":0.0001},{"r":"VPLpc","v":0.00002,"lo":0.0,"hi":0.0001}
  ]
},
"spacing": -7,
"vconcat": [
  {"width": 785, "height": 310, "view": {"fill": "white", "stroke": null},
   "layer": [
     {"data": {"name": "fcl"}, "mark": {"type": "line", "color": "black", "strokeWidth": 1.3, "strokeJoin": "miter"},
      "encoding": {"x": {"field": "x", "type": "quantitative", "scale": {"domain": [0, 785], "nice": false, "zero": false}, "axis": null},
                   "y": {"field": "y", "type": "quantitative", "scale": {"domain": [0, 310], "nice": false, "zero": false, "reverse": true}, "axis": null},
                   "detail": {"field": "g"}, "order": {"field": "k"}}},
     {"data": {"name": "fct"}, "mark": {"type": "text", "font": "Liberation Sans Narrow, Arial Narrow, Liberation Sans, sans-serif", "fontSize": 10, "color": "black", "align": "center", "baseline": "middle"},
      "encoding": {"x": {"field": "x", "type": "quantitative"}, "y": {"field": "y", "type": "quantitative"}, "text": {"field": "t"}}},
     {"data": {"name": "fca"}, "mark": {"type": "text", "fontSize": 16, "fontWeight": "bold", "color": "black", "align": "center", "baseline": "middle"},
      "encoding": {"x": {"field": "x", "type": "quantitative"}, "y": {"field": "y", "type": "quantitative"}, "text": {"field": "t"}}}
   ]},
  {"spacing": 8,
   "vconcat": [
    {"spacing": 12,
     "hconcat": [
      {"spacing": -6,
       "vconcat": [
        {"bounds": "flush", "spacing": 0,
         "hconcat": [
          {"width": 55, "height": 1, "data": {"values": []}, "mark": "point"},
          {"width": 134, "height": 114, "title": {"text": "b", "offset": 8}, "view": {"stroke": "#c8c8c8"},
           "layer": [
             {"data": {"name": "sc"}, "transform": [{"filter": "datum.p === 'b'"}], "mark": {"type": "circle", "size": 18, "color": "#4a8fd6", "opacity": 1},
              "encoding": {"x": {"field": "x", "type": "quantitative", "title": "Manual cell counts", "scale": {"domain": [0, 800], "nice": false, "zero": false}, "axis": {"values": [0,200,400,600,800], "tickCount": 20, "format": "d", "grid": true, "gridColor": "#d9d9d9", "domain": false, "ticks": false, "labelColor": "#595959", "labelFontSize": 9.5, "labelPadding": 3, "titleFontSize": 10.5, "titlePadding": 3}},
                           "y": {"field": "y", "type": "quantitative", "title": "Input signal volume", "scale": {"domain": [0, 0.035], "nice": false, "zero": false}, "axis": {"values": [0,0.005,0.01,0.015,0.02,0.025,0.03,0.035], "tickCount": 20, "labelExpr": "format(round(datum.value*100)/100, '.2f')", "grid": true, "gridColor": "#d9d9d9", "domain": false, "ticks": false, "labelColor": "#595959", "labelFontSize": 9.5, "labelPadding": 3, "titleFontSize": 10.5, "titlePadding": 3}}}},
             {"data": {"name": "fits"}, "transform": [{"filter": "datum.p === 'b'"}], "mark": {"type": "rule", "color": "black", "strokeWidth": 1.2},
              "encoding": {"x": {"field": "x", "type": "quantitative", "title": "Manual cell counts"}, "y": {"field": "y", "type": "quantitative", "title": "Input signal volume"}, "x2": {"field": "x2"}, "y2": {"field": "y2"}}},
             {"data": {"name": "notes"}, "transform": [{"filter": "datum.p === 'b' && datum.k === 'n'"}], "mark": {"type": "text", "align": "left", "baseline": "middle", "fontSize": 12, "fontWeight": "bold", "color": "black"},
              "encoding": {"x": {"field": "x", "type": "quantitative", "title": "Manual cell counts"}, "y": {"field": "y", "type": "quantitative", "title": "Input signal volume"}, "text": {"field": "t"}}},
             {"data": {"name": "notes"}, "transform": [{"filter": "datum.p === 'b' && datum.k === 'e'"}], "mark": {"type": "text", "align": "left", "baseline": "middle", "fontSize": 9.5, "color": "#595959"},
              "encoding": {"x": {"field": "x", "type": "quantitative", "title": "Manual cell counts"}, "y": {"field": "y", "type": "quantitative", "title": "Input signal volume"}, "text": {"field": "t"}}}
           ]},
          {"width": 51, "height": 1, "data": {"values": []}, "mark": "point"},
          {"width": 133, "height": 114, "title": {"text": "c", "offset": 8}, "view": {"stroke": "#c8c8c8"},
           "layer": [
             {"data": {"name": "sc"}, "transform": [{"filter": "datum.p === 'c'"}], "mark": {"type": "circle", "size": 18, "color": "#4a8fd6", "opacity": 1},
              "encoding": {"x": {"field": "x", "type": "quantitative", "title": "Manual cell counts", "scale": {"domain": [0, 2000], "nice": false, "zero": false}, "axis": {"values": [0,500,1000,1500,2000], "tickCount": 20, "format": "d", "grid": true, "gridColor": "#d9d9d9", "domain": false, "ticks": false, "labelColor": "#595959", "labelFontSize": 9.5, "labelPadding": 3, "titleFontSize": 10.5, "titlePadding": 3}},
                           "y": {"field": "y", "type": "quantitative", "title": "Input signal volume", "scale": {"domain": [0, 0.12], "nice": false, "zero": false}, "axis": {"values": [0,0.02,0.04,0.06,0.08,0.1,0.12], "tickCount": 20, "format": ".2f", "grid": true, "gridColor": "#d9d9d9", "domain": false, "ticks": false, "labelColor": "#595959", "labelFontSize": 9.5, "labelPadding": 3, "titleFontSize": 10.5, "titlePadding": 3}}}},
             {"data": {"name": "fits"}, "transform": [{"filter": "datum.p === 'c'"}], "mark": {"type": "rule", "color": "black", "strokeWidth": 1.2},
              "encoding": {"x": {"field": "x", "type": "quantitative", "title": "Manual cell counts"}, "y": {"field": "y", "type": "quantitative", "title": "Input signal volume"}, "x2": {"field": "x2"}, "y2": {"field": "y2"}}},
             {"data": {"name": "notes"}, "transform": [{"filter": "datum.p === 'c' && datum.k === 'n'"}], "mark": {"type": "text", "align": "left", "baseline": "middle", "fontSize": 12, "fontWeight": "bold", "color": "black"},
              "encoding": {"x": {"field": "x", "type": "quantitative", "title": "Manual cell counts"}, "y": {"field": "y", "type": "quantitative", "title": "Input signal volume"}, "text": {"field": "t"}}},
             {"data": {"name": "notes"}, "transform": [{"filter": "datum.p === 'c' && datum.k === 'e'"}], "mark": {"type": "text", "align": "left", "baseline": "middle", "fontSize": 9.5, "color": "#595959"},
              "encoding": {"x": {"field": "x", "type": "quantitative", "title": "Manual cell counts"}, "y": {"field": "y", "type": "quantitative", "title": "Input signal volume"}, "text": {"field": "t"}}}
           ]},
          {"width": 53, "height": 1, "data": {"values": []}, "mark": "point"},
          {"width": 133, "height": 114, "title": {"text": "d", "offset": 8}, "view": {"stroke": "#c8c8c8"},
           "layer": [
             {"data": {"name": "sc"}, "transform": [{"filter": "datum.p === 'd'"}], "mark": {"type": "circle", "size": 18, "color": "#4a8fd6", "opacity": 1},
              "encoding": {"x": {"field": "x", "type": "quantitative", "title": "Manual cell counts", "scale": {"domain": [0, 3000], "nice": false, "zero": false}, "axis": {"values": [0,1000,2000,3000], "tickCount": 20, "format": "d", "grid": true, "gridColor": "#d9d9d9", "domain": false, "ticks": false, "labelColor": "#595959", "labelFontSize": 9.5, "labelPadding": 3, "titleFontSize": 10.5, "titlePadding": 3}},
                           "y": {"field": "y", "type": "quantitative", "title": "Input signal volume", "scale": {"domain": [0, 0.18], "nice": false, "zero": false}, "axis": {"values": [0,0.02,0.04,0.06,0.08,0.1,0.12,0.14,0.16,0.18], "tickCount": 20, "format": ".2f", "grid": true, "gridColor": "#d9d9d9", "domain": false, "ticks": false, "labelColor": "#595959", "labelFontSize": 9.5, "labelPadding": 3, "titleFontSize": 10.5, "titlePadding": 3}}}},
             {"data": {"name": "fits"}, "transform": [{"filter": "datum.p === 'd'"}], "mark": {"type": "rule", "color": "black", "strokeWidth": 1.2},
              "encoding": {"x": {"field": "x", "type": "quantitative", "title": "Manual cell counts"}, "y": {"field": "y", "type": "quantitative", "title": "Input signal volume"}, "x2": {"field": "x2"}, "y2": {"field": "y2"}}},
             {"data": {"name": "notes"}, "transform": [{"filter": "datum.p === 'd' && datum.k === 'n'"}], "mark": {"type": "text", "align": "left", "baseline": "middle", "fontSize": 12, "fontWeight": "bold", "color": "black"},
              "encoding": {"x": {"field": "x", "type": "quantitative", "title": "Manual cell counts"}, "y": {"field": "y", "type": "quantitative", "title": "Input signal volume"}, "text": {"field": "t"}}},
             {"data": {"name": "notes"}, "transform": [{"filter": "datum.p === 'd' && datum.k === 'e'"}], "mark": {"type": "text", "align": "left", "baseline": "middle", "fontSize": 9.5, "color": "#595959"},
              "encoding": {"x": {"field": "x", "type": "quantitative", "title": "Manual cell counts"}, "y": {"field": "y", "type": "quantitative", "title": "Input signal volume"}, "text": {"field": "t"}}}
           ]}
         ]},
        {"bounds": "flush", "spacing": 0,
         "hconcat": [
          {"width": 55, "height": 1, "data": {"values": []}, "mark": "point"},
          {"width": 133, "height": 115, "title": {"text": "e", "offset": 7}, "view": {"stroke": "#c8c8c8"},
           "layer": [
             {"data": {"name": "sc"}, "transform": [{"filter": "datum.p === 'e'"}], "mark": {"type": "circle", "size": 18, "color": "#4a8fd6", "opacity": 1},
              "encoding": {"x": {"field": "x", "type": "quantitative", "title": "Manual cell counts", "scale": {"domain": [0, 8000], "nice": false, "zero": false}, "axis": {"values": [0,2000,4000,6000,8000], "tickCount": 20, "format": "d", "grid": true, "gridColor": "#d9d9d9", "domain": false, "ticks": false, "labelColor": "#595959", "labelFontSize": 9.5, "labelPadding": 3, "titleFontSize": 10.5, "titlePadding": 3}},
                           "y": {"field": "y", "type": "quantitative", "title": "Input signal volume", "scale": {"domain": [0, 0.7], "nice": false, "zero": false}, "axis": {"values": [0,0.1,0.2,0.3,0.4,0.5,0.6,0.7], "tickCount": 20, "format": ".2f", "grid": true, "gridColor": "#d9d9d9", "domain": false, "ticks": false, "labelColor": "#595959", "labelFontSize": 9.5, "labelPadding": 3, "titleFontSize": 10.5, "titlePadding": 3}}}},
             {"data": {"name": "fits"}, "transform": [{"filter": "datum.p === 'e'"}], "mark": {"type": "rule", "color": "black", "strokeWidth": 1.2},
              "encoding": {"x": {"field": "x", "type": "quantitative", "title": "Manual cell counts"}, "y": {"field": "y", "type": "quantitative", "title": "Input signal volume"}, "x2": {"field": "x2"}, "y2": {"field": "y2"}}},
             {"data": {"name": "notes"}, "transform": [{"filter": "datum.p === 'e' && datum.k === 'n'"}], "mark": {"type": "text", "align": "left", "baseline": "middle", "fontSize": 12, "fontWeight": "bold", "color": "black"},
              "encoding": {"x": {"field": "x", "type": "quantitative", "title": "Manual cell counts"}, "y": {"field": "y", "type": "quantitative", "title": "Input signal volume"}, "text": {"field": "t"}}},
             {"data": {"name": "notes"}, "transform": [{"filter": "datum.p === 'e' && datum.k === 'e'"}], "mark": {"type": "text", "align": "left", "baseline": "middle", "fontSize": 9.5, "color": "#595959"},
              "encoding": {"x": {"field": "x", "type": "quantitative", "title": "Manual cell counts"}, "y": {"field": "y", "type": "quantitative", "title": "Input signal volume"}, "text": {"field": "t"}}}
           ]},
          {"width": 52, "height": 1, "data": {"values": []}, "mark": "point"},
          {"width": 133, "height": 115, "title": {"text": "f", "offset": 7}, "view": {"stroke": "#c8c8c8"},
           "layer": [
             {"data": {"name": "sc"}, "transform": [{"filter": "datum.p === 'f'"}], "mark": {"type": "circle", "size": 18, "color": "#4a8fd6", "opacity": 1},
              "encoding": {"x": {"field": "x", "type": "quantitative", "title": "Manual cell counts", "scale": {"domain": [0, 2000], "nice": false, "zero": false}, "axis": {"values": [0,500,1000,1500,2000], "tickCount": 20, "format": "d", "grid": true, "gridColor": "#d9d9d9", "domain": false, "ticks": false, "labelColor": "#595959", "labelFontSize": 9.5, "labelPadding": 3, "titleFontSize": 10.5, "titlePadding": 3}},
                           "y": {"field": "y", "type": "quantitative", "title": "Input signal volume", "scale": {"domain": [0, 0.16], "nice": false, "zero": false}, "axis": {"values": [0,0.02,0.04,0.06,0.08,0.1,0.12,0.14,0.16], "tickCount": 20, "format": ".2f", "grid": true, "gridColor": "#d9d9d9", "domain": false, "ticks": false, "labelColor": "#595959", "labelFontSize": 9.5, "labelPadding": 3, "titleFontSize": 10.5, "titlePadding": 3}}}},
             {"data": {"name": "fits"}, "transform": [{"filter": "datum.p === 'f'"}], "mark": {"type": "rule", "color": "black", "strokeWidth": 1.2},
              "encoding": {"x": {"field": "x", "type": "quantitative", "title": "Manual cell counts"}, "y": {"field": "y", "type": "quantitative", "title": "Input signal volume"}, "x2": {"field": "x2"}, "y2": {"field": "y2"}}},
             {"data": {"name": "notes"}, "transform": [{"filter": "datum.p === 'f' && datum.k === 'n'"}], "mark": {"type": "text", "align": "left", "baseline": "middle", "fontSize": 12, "fontWeight": "bold", "color": "black"},
              "encoding": {"x": {"field": "x", "type": "quantitative", "title": "Manual cell counts"}, "y": {"field": "y", "type": "quantitative", "title": "Input signal volume"}, "text": {"field": "t"}}},
             {"data": {"name": "notes"}, "transform": [{"filter": "datum.p === 'f' && datum.k === 'e'"}], "mark": {"type": "text", "align": "left", "baseline": "middle", "fontSize": 9.5, "color": "#595959"},
              "encoding": {"x": {"field": "x", "type": "quantitative", "title": "Manual cell counts"}, "y": {"field": "y", "type": "quantitative", "title": "Input signal volume"}, "text": {"field": "t"}}}
           ]},
          {"width": 53, "height": 1, "data": {"values": []}, "mark": "point"},
          {"width": 133, "height": 115, "title": {"text": "g", "offset": 7}, "view": {"stroke": "#c8c8c8"},
           "layer": [
             {"data": {"name": "sc"}, "transform": [{"filter": "datum.p === 'g'"}], "mark": {"type": "circle", "size": 18, "color": "#4a8fd6", "opacity": 1},
              "encoding": {"x": {"field": "x", "type": "quantitative", "title": "Manual cell counts", "scale": {"domain": [0, 4000], "nice": false, "zero": false}, "axis": {"values": [0,1000,2000,3000,4000], "tickCount": 20, "format": "d", "grid": true, "gridColor": "#d9d9d9", "domain": false, "ticks": false, "labelColor": "#595959", "labelFontSize": 9.5, "labelPadding": 3, "titleFontSize": 10.5, "titlePadding": 3}},
                           "y": {"field": "y", "type": "quantitative", "title": "Input signal volume", "scale": {"domain": [0, 0.3], "nice": false, "zero": false}, "axis": {"values": [0,0.05,0.1,0.15,0.2,0.25,0.3], "tickCount": 20, "format": ".2f", "grid": true, "gridColor": "#d9d9d9", "domain": false, "ticks": false, "labelColor": "#595959", "labelFontSize": 9.5, "labelPadding": 3, "titleFontSize": 10.5, "titlePadding": 3}}}},
             {"data": {"name": "fits"}, "transform": [{"filter": "datum.p === 'g'"}], "mark": {"type": "rule", "color": "black", "strokeWidth": 1.2},
              "encoding": {"x": {"field": "x", "type": "quantitative", "title": "Manual cell counts"}, "y": {"field": "y", "type": "quantitative", "title": "Input signal volume"}, "x2": {"field": "x2"}, "y2": {"field": "y2"}}},
             {"data": {"name": "notes"}, "transform": [{"filter": "datum.p === 'g' && datum.k === 'n'"}], "mark": {"type": "text", "align": "left", "baseline": "middle", "fontSize": 12, "fontWeight": "bold", "color": "black"},
              "encoding": {"x": {"field": "x", "type": "quantitative", "title": "Manual cell counts"}, "y": {"field": "y", "type": "quantitative", "title": "Input signal volume"}, "text": {"field": "t"}}},
             {"data": {"name": "notes"}, "transform": [{"filter": "datum.p === 'g' && datum.k === 'e'"}], "mark": {"type": "text", "align": "left", "baseline": "middle", "fontSize": 9.5, "color": "#595959"},
              "encoding": {"x": {"field": "x", "type": "quantitative", "title": "Manual cell counts"}, "y": {"field": "y", "type": "quantitative", "title": "Input signal volume"}, "text": {"field": "t"}}}
           ]}
         ]}
       ]},
      {"bounds": "flush", "spacing": 15,
       "vconcat": [
        {"width": 112, "height": 1, "data": {"values": []}, "mark": "point"},
        {"width": 112, "height": 155, "title": {"text": "h", "offset": 14, "dy": 25, "dx": -28}, "view": {"stroke": "#c8c8c8"},
         "data": {"name": "hd"},
         "encoding": {"x": {"field": "r", "type": "nominal", "sort": null, "title": null, "scale": {"type": "point", "padding": 0.5}, "axis": {"labelAngle": -90, "labelAlign": "right", "labelBaseline": "middle", "labelColor": "#595959", "labelFontSize": 10, "ticks": false, "domain": false, "labelPadding": 6}}},
         "layer": [
           {"mark": {"type": "rule", "color": "black", "strokeWidth": 1},
            "encoding": {"y": {"field": "lo", "type": "quantitative", "title": "Slope from linear correlation with 95% CI", "scale": {"type": "log", "domain": [1e-5, 1e-3], "nice": false}, "axis": {"values": [1e-5, 1e-4, 1e-3], "tickCount": 20, "labelExpr": "datum.value > 5e-4 ? '1.00E-03' : datum.value > 5e-5 ? '1.00E-04' : '1.00E-05'", "grid": true, "gridColor": "#d9d9d9", "domain": false, "ticks": false, "labelColor": "#595959", "labelFontSize": 9.5, "labelPadding": 4, "titleFontSize": 10, "titlePadding": 6}}, "y2": {"field": "hi"}}},
           {"mark": {"type": "tick", "color": "black", "size": 5, "thickness": 1}, "encoding": {"y": {"field": "lo", "type": "quantitative", "title": "Slope from linear correlation with 95% CI"}}},
           {"mark": {"type": "tick", "color": "black", "size": 5, "thickness": 1}, "encoding": {"y": {"field": "hi", "type": "quantitative", "title": "Slope from linear correlation with 95% CI"}}},
           {"mark": {"type": "circle", "size": 40, "color": "#4a8fd6", "opacity": 1}, "encoding": {"y": {"field": "v", "type": "quantitative", "title": "Slope from linear correlation with 95% CI"}}}
         ]}
       ]}
     ]},
    {"spacing": -6,
     "vconcat": [
      {"bounds": "flush", "spacing": 0,
       "hconcat": [
        {"width": 45, "height": 1, "data": {"values": []}, "mark": "point"},
        {"width": 168, "height": 133, "title": {"text": "i", "offset": 4}, "view": {"stroke": "#808080"},
         "layer": [
           {"data": {"name": "ibox"}, "mark": {"type": "rule", "color": "black", "strokeWidth": 0.8},
            "encoding": {"x": {"field": "g", "type": "nominal", "title": null, "scale": {"domain": ["Emx1","Sepw1","Cux2","Nr5a1","Rbp4","Tlx3","A93-Tg1","Ntsr1","Ctgf","Syt6","Gad2","Ndnf","Vip","Pvalb","Sst","Chat","Htr3a","Calb1"], "paddingInner": 0, "paddingOuter": 0}, "axis": {"labelAngle": -90, "labelAlign": "right", "labelBaseline": "middle", "labelFontSize": 7.5, "labelColor": "#333", "ticks": true, "tickSize": 3, "domain": false, "labelPadding": 2}},
                         "y": {"field": "lo", "type": "quantitative", "title": "Number of starter cells", "scale": {"type": "log", "domain": [0.67, 4300], "nice": false}, "axis": {"values": [1, 10, 100, 1000], "tickCount": 20, "format": "d", "labelAngle": -90, "labelAlign": "center", "labelBaseline": "bottom", "labelFontSize": 9, "labelColor": "#333", "ticks": true, "tickSize": 4, "domain": false, "grid": false, "labelPadding": 3, "titleFontSize": 11, "titlePadding": 4}},
                         "y2": {"field": "hi"}}},
           {"data": {"name": "ibox"}, "mark": {"type": "bar", "fill": "white", "stroke": "black", "strokeWidth": 0.8, "size": 7},
            "encoding": {"x": {"field": "g", "type": "nominal", "title": null}, "y": {"field": "q1", "type": "quantitative", "title": "Number of starter cells"}, "y2": {"field": "q3"}}},
           {"data": {"name": "ibox"}, "mark": {"type": "tick", "color": "black", "size": 7, "thickness": 1.3},
            "encoding": {"x": {"field": "g", "type": "nominal", "title": null}, "y": {"field": "med", "type": "quantitative", "title": "Number of starter cells"}}},
           {"data": {"name": "ipts"}, "mark": {"type": "circle", "size": 5, "color": "black", "opacity": 1},
            "encoding": {"x": {"field": "g", "type": "nominal", "title": null}, "y": {"field": "v", "type": "quantitative", "title": "Number of starter cells"}}}
         ]},
        {"width": 47, "height": 1, "data": {"values": []}, "mark": "point"},
        {"width": 133, "height": 134, "title": {"text": "j", "offset": 3, "frame": "group", "dx": -23}, "view": {"stroke": "#808080"},
         "data": {"name": "jd"},
         "mark": {"type": "rect", "fill": "white", "stroke": "black", "strokeWidth": 1},
         "encoding": {
           "x": {"field": "a", "type": "quantitative", "title": "Number of starter cells", "scale": {"type": "symlog", "constant": 1, "domain": [-0.71, 3161], "nice": false, "zero": false}, "axis": {"values": [0, 10, 100, 1000], "tickCount": 20, "format": "d", "labelFontSize": 10, "labelColor": "#333", "ticks": true, "tickSize": 4, "domain": false, "grid": false, "labelPadding": 3, "titleFontSize": 11, "titlePadding": 4}},
           "x2": {"field": "b"},
           "y": {"field": "c", "type": "quantitative", "title": "Frequency", "scale": {"type": "log", "domain": [0.84, 46], "nice": false}, "axis": {"values": [1, 3, 10, 30], "tickCount": 20, "format": "d", "labelFontSize": 10, "labelColor": "#333", "ticks": true, "tickSize": 4, "domain": false, "grid": false, "labelPadding": 3, "titleFontSize": 11, "titlePadding": 6}},
           "y2": {"datum": 1}
         }},
        {"width": 46, "height": 1, "data": {"values": []}, "mark": "point"},
        {"width": 134, "height": 131, "title": {"text": "k", "offset": 3, "frame": "group", "dx": -26}, "view": {"stroke": "#808080"},
         "data": {"name": "kd"},
         "mark": {"type": "circle", "size": 9, "color": "black", "opacity": 1},
         "encoding": {
           "x": {"field": "n", "type": "quantitative", "title": "Number of starter cells", "scale": {"type": "symlog", "constant": 1, "domain": [-0.397, 5495], "nice": false, "zero": false}, "axis": {"values": [0, 10, 100, 1000], "tickCount": 20, "format": "d", "labelFontSize": 10, "labelColor": "#333", "ticks": true, "tickSize": 4, "domain": false, "grid": false, "labelPadding": 3, "titleFontSize": 11, "titlePadding": 4}},
           "y": {"field": "v", "type": "quantitative", "title": "Total input signal volume", "scale": {"domain": [-0.37, 11.66], "nice": false, "zero": false}, "axis": {"values": [0, 3, 6, 9], "tickCount": 20, "format": "d", "labelFontSize": 10, "labelColor": "#333", "ticks": true, "tickSize": 4, "domain": false, "grid": false, "labelPadding": 3, "titleFontSize": 11, "titlePadding": 6}}
         }},
        {"width": 53, "height": 1, "data": {"values": []}, "mark": "point"},
        {"width": 147, "height": 129, "title": {"text": "l", "offset": 3, "frame": "group", "dx": -26}, "view": {"stroke": "#808080"},
         "layer": [
           {"data": {"name": "vio"}, "transform": [{"filter": "datum.r === 'Isocortex'"}], "mark": {"type": "area", "orient": "horizontal", "fill": "white", "stroke": "black", "strokeWidth": 1.2},
            "encoding": {"y": {"field": "v", "type": "quantitative", "title": "Fraction of total inputs", "scale": {"domain": [-0.076, 1.01], "nice": false, "zero": false}, "axis": {"values": [0, 0.25, 0.5, 0.75], "tickCount": 20, "format": ".2f", "labelFontSize": 10, "labelColor": "#333", "ticks": true, "tickSize": 4, "domain": false, "grid": false, "labelPadding": 3, "titleFontSize": 11, "titlePadding": 6}},
                         "x": {"field": "d", "type": "quantitative", "stack": "center", "impute": null, "title": null, "scale": {"domain": [-0.236, 3.031], "nice": false, "zero": false}, "axis": null}}},
           {"data": {"name": "vio"}, "transform": [{"filter": "datum.r === 'Thalamus'"}], "mark": {"type": "area", "orient": "horizontal", "fill": "white", "stroke": "black", "strokeWidth": 1.2},
            "encoding": {"y": {"field": "v", "type": "quantitative", "title": "Fraction of total inputs"},
                         "x": {"field": "d", "type": "quantitative", "stack": "center", "impute": null, "title": null, "scale": {"domain": [-1.326, 1.941], "nice": false, "zero": false}, "axis": null}}},
           {"data": {"name": "vio"}, "transform": [{"filter": "datum.r === 'HPF'"}], "mark": {"type": "area", "orient": "horizontal", "fill": "white", "stroke": "black", "strokeWidth": 1.2},
            "encoding": {"y": {"field": "v", "type": "quantitative", "title": "Fraction of total inputs"},
                         "x": {"field": "d", "type": "quantitative", "stack": "center", "impute": null, "title": null, "scale": {"domain": [-2.211, 1.056], "nice": false, "zero": false}, "axis": null}}},
           {"data": {"name": "lmean"}, "mark": {"type": "circle", "size": 45, "color": "black", "opacity": 1},
            "encoding": {"x": {"field": "r", "type": "nominal", "sort": null, "title": null, "scale": {"type": "point", "padding": 0.633, "align": 0.44}, "axis": {"labelAngle": 0, "labelFontSize": 9, "labelFontWeight": "bold", "labelColor": "#333", "ticks": true, "tickSize": 4, "domain": false, "labelPadding": 3}},
                         "y": {"field": "m", "type": "quantitative", "title": "Fraction of total inputs"}}}
         ],
         "resolve": {"scale": {"x": "independent"}, "axis": {"x": "independent"}}}
       ]},
      {"bounds": "flush", "spacing": 0,
       "hconcat": [
        {"width": 49, "height": 1, "data": {"values": []}, "mark": "point"},
        {"width": 327, "height": 159, "title": {"text": "m", "offset": 4}, "view": {"stroke": "black", "strokeWidth": 1.5},
         "data": {"name": "md"},
         "encoding": {"x": {"field": "r", "type": "nominal", "sort": null, "title": null, "scale": {"type": "point", "padding": 0.63}, "axis": {"labelAngle": -90, "labelAlign": "right", "labelBaseline": "middle", "labelFontSize": 8.5, "labelColor": "#333", "ticks": true, "tickSize": 3, "domain": false, "labelPadding": 2}}},
         "layer": [
           {"mark": {"type": "rule", "color": "black", "strokeWidth": 1.1},
            "encoding": {"y": {"field": "lo", "type": "quantitative", "title": "Fraction of total inputs", "scale": {"domain": [-0.0014, 0.0266], "nice": false, "zero": false}, "axis": {"values": [0, 0.005, 0.01, 0.015, 0.02, 0.025], "tickCount": 20, "format": ".3f", "labelFontSize": 9, "labelColor": "#333", "ticks": true, "tickSize": 3, "domain": false, "grid": false, "labelPadding": 2, "titleFontSize": 11, "titlePadding": 6}}, "y2": {"field": "hi"}}},
           {"mark": {"type": "point", "filled": false, "color": "black", "strokeWidth": 1.5, "size": 80, "opacity": 1},
            "encoding": {"y": {"field": "v", "type": "quantitative", "title": "Fraction of total inputs"}}}
         ]},
        {"width": 39, "height": 1, "data": {"values": []}, "mark": "point"},
        {"width": 357, "height": 160, "title": {"text": "n", "offset": 5, "dx": 18}, "view": {"stroke": "black", "strokeWidth": 1.5},
         "data": {"name": "nd"},
         "encoding": {"x": {"field": "r", "type": "nominal", "sort": null, "title": null, "scale": {"type": "point", "padding": 0.45}, "axis": {"labelAngle": -90, "labelAlign": "right", "labelBaseline": "middle", "labelFontSize": 8, "labelColor": "#333", "ticks": true, "tickSize": 3, "domain": false, "labelPadding": 2}}},
         "layer": [
           {"mark": {"type": "rule", "color": "black", "strokeWidth": 1.1},
            "encoding": {"y": {"field": "lo", "type": "quantitative", "title": "Fraction of total inputs", "scale": {"domain": [-0.0034, 0.057], "nice": false, "zero": false}, "axis": {"values": [0, 0.02, 0.04], "tickCount": 20, "format": ".2f", "labelFontSize": 9, "labelColor": "#333", "ticks": true, "tickSize": 3, "domain": false, "grid": false, "labelPadding": 2, "titleFontSize": 11, "titlePadding": 6}}, "y2": {"field": "hi"}}},
           {"mark": {"type": "point", "filled": false, "color": "black", "strokeWidth": 1.5, "size": 32, "opacity": 1},
            "encoding": {"y": {"field": "v", "type": "quantitative", "title": "Fraction of total inputs"}}}
         ]}
       ]}
     ]}
   ]}
]
}
